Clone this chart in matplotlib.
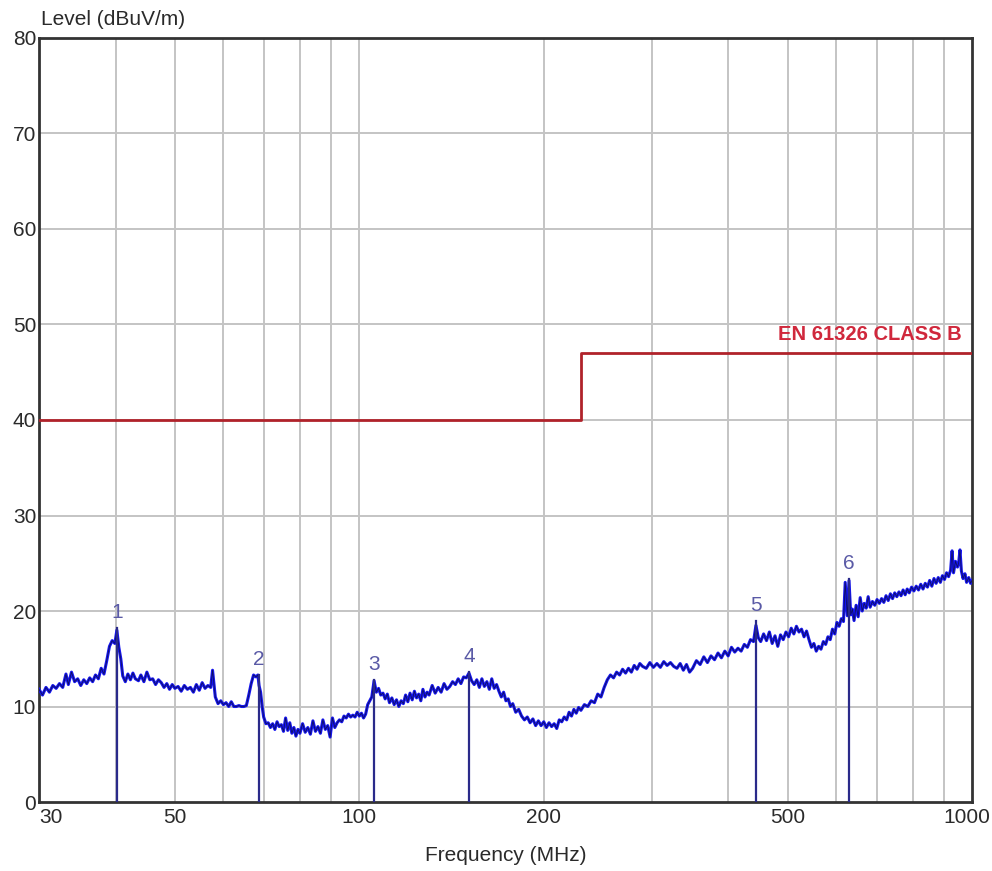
import matplotlib
matplotlib.use('Agg')
import matplotlib.pyplot as plt
import matplotlib.transforms as mtransforms
from matplotlib.ticker import FixedLocator, NullFormatter

plt.rcParams['font.family'] = ['Liberation Sans Narrow', 'Liberation Sans', 'DejaVu Sans']

# measured trace (MHz, dBuV/m)
freq = [30.0, 30.4, 30.8, 31.2, 31.6, 32.0, 32.4, 32.8, 33.2, 33.5, 33.9, 34.3, 34.7, 35.1, 35.5,
        35.9, 36.3, 36.7, 37.1, 37.5, 37.9, 38.3, 38.7, 39.1, 39.5, 39.9, 40.2, 40.5, 40.8, 41.1,
        41.5, 41.9, 42.3, 42.7, 43.1, 43.6, 44.0, 44.5, 45.0, 45.5, 46.0, 46.5, 47.0, 47.5, 48.0,
        48.5, 49.0, 49.5, 50.0, 50.6, 51.2, 51.8, 52.4, 53.0, 53.6, 54.2, 54.8, 55.4, 56.0, 56.6,
        57.2, 57.6, 58.2, 58.8, 59.4, 60.0, 60.6, 61.2, 61.8, 62.4, 63.0, 63.6, 64.2, 64.8, 65.4,
        66.0, 66.6, 67.2, 67.8, 68.3, 68.6, 69.0, 69.4, 69.8, 70.4, 71.0, 71.6, 72.2, 72.8, 73.4,
        74.0, 74.6, 75.2, 75.8, 76.4, 77.0, 77.6, 78.2, 78.8, 79.4, 80.0, 80.8, 81.6, 82.4, 83.2,
        84.0, 84.8, 85.6, 86.4, 87.2, 88.0, 88.8, 89.6, 90.4, 91.2, 92.0, 92.8, 93.6, 94.4, 95.2,
        96.0, 96.8, 97.6, 98.4, 99.2, 100.0, 100.8, 101.6, 102.4, 103.2, 104.0, 104.8, 105.7, 106.6,
        107.5, 108.4, 109.3, 110.2, 111.1, 112.0, 113.0, 114.0, 115.0, 116.0, 117.0, 118.0, 119.0,
        120.0, 121.0, 122.0, 123.0, 124.0, 125.0, 126.0, 127.0, 128.0, 129.0, 130.0, 131.5, 133.0,
        134.5, 136.0, 137.5, 139.0, 140.5, 142.0, 143.5, 145.0, 146.5, 148.0, 149.5, 151.0, 152.5,
        154.0, 155.5, 157.0, 158.5, 160.0, 161.5, 163.0, 164.5, 166.0, 167.5, 169.0, 170.5, 172.0,
        173.5, 175.0, 176.5, 178.0, 180.0, 182.0, 184.0, 186.0, 188.0, 190.0, 192.0, 194.0, 196.0,
        198.0, 200.0, 202.0, 204.0, 206.0, 208.0, 210.0, 212.0, 214.0, 216.0, 218.0, 220.0, 222.0,
        224.0, 226.0, 228.0, 230.0, 233.0, 236.0, 239.0, 242.0, 245.0, 248.0, 251.0, 254.0, 257.0,
        260.0, 263.0, 266.0, 269.0, 272.0, 275.0, 278.0, 281.0, 284.0, 287.0, 290.0, 294.0, 298.0,
        302.0, 306.0, 310.0, 314.0, 318.0, 322.0, 326.0, 330.0, 334.0, 338.0, 342.0, 346.0, 350.0,
        355.0, 360.0, 365.0, 370.0, 375.0, 380.0, 385.0, 390.0, 395.0, 400.0, 405.0, 410.0, 415.0,
        420.0, 425.0, 430.0, 435.0, 440.0, 444.0, 448.0, 452.0, 457.0, 462.0, 467.0, 472.0, 477.0,
        482.0, 487.0, 492.0, 497.0, 502.0, 507.0, 512.0, 517.0, 522.0, 527.0, 532.0, 537.0, 542.0,
        547.0, 552.0, 557.0, 562.0, 567.0, 572.0, 577.0, 582.0, 587.0, 592.0, 597.0, 602.0, 607.0,
        612.0, 617.0, 621.0, 626.0, 630.0, 634.0, 638.0, 642.0, 647.0, 652.0, 657.0, 662.0, 667.0,
        672.0, 677.0, 682.0, 688.0, 694.0, 700.0, 706.0, 712.0, 718.0, 724.0, 730.0, 736.0, 742.0,
        748.0, 754.0, 760.0, 766.0, 772.0, 778.0, 784.0, 790.0, 797.0, 804.0, 811.0, 818.0, 825.0,
        832.0, 839.0, 846.0, 853.0, 860.0, 867.0, 874.0, 881.0, 888.0, 895.0, 902.0, 909.0, 916.0,
        923.0, 928.0, 933.0, 940.0, 947.0, 951.0, 956.0, 961.0, 967.0, 974.0, 980.0, 988.0, 995.0,
        1000.0]
level = [11.8, 11.2, 12.0, 11.5, 12.2, 11.9, 12.4, 12.0, 13.4, 12.3, 13.6, 12.6, 12.9, 12.2, 12.8,
         12.4, 13.0, 12.6, 13.3, 12.9, 14.0, 13.4, 14.8, 16.3, 16.9, 16.6, 18.0, 16.2, 15.0, 13.2,
         12.6, 13.4, 12.8, 13.5, 12.9, 12.7, 13.3, 12.6, 13.6, 12.8, 12.9, 12.3, 12.8, 12.5, 12.0,
         12.4, 11.8, 12.3, 11.9, 12.1, 11.6, 12.2, 11.8, 12.0, 11.5, 12.3, 11.7, 12.5, 11.9, 12.2,
         12.0, 13.8, 11.0, 10.3, 10.6, 10.2, 10.4, 10.0, 10.5, 10.0, 10.0, 10.1, 10.0, 10.0, 10.1,
         11.2, 12.4, 13.3, 13.1, 13.3, 12.2, 11.5, 10.0, 8.9, 8.2, 8.3, 7.8, 8.2, 7.6, 8.4,
         7.9, 8.1, 7.4, 8.8, 7.5, 8.3, 7.2, 7.8, 6.9, 7.6, 7.2, 8.2, 7.3, 7.8, 7.1,
         8.5, 7.4, 7.9, 7.2, 8.6, 7.6, 8.0, 6.8, 8.8, 7.8, 8.3, 8.6, 8.4, 9.0, 8.8,
         9.2, 8.9, 9.1, 8.9, 9.4, 9.0, 9.3, 8.8, 9.2, 10.2, 10.6, 11.0, 12.7, 11.5,
         11.9, 11.2, 11.4, 10.8, 11.3, 10.4, 10.9, 10.2, 10.7, 10.0, 10.6, 10.3, 11.2,
         10.5, 11.4, 10.7, 11.6, 10.9, 11.3, 10.6, 11.8, 11.0, 11.5, 11.2, 12.2, 11.4,
         12.0, 11.5, 12.4, 11.8, 12.1, 12.6, 12.3, 12.9, 12.4, 13.1, 13.0, 13.5, 12.7,
         12.3, 12.8, 12.0, 12.9, 12.1, 12.6, 11.8, 12.9, 11.9, 12.3, 11.6, 11.0, 11.5,
         10.6, 10.8, 10.0, 10.3, 9.4, 9.7, 9.0, 8.6, 8.9, 8.3, 8.7, 8.0, 8.5,
         8.0, 8.4, 7.8, 8.3, 7.9, 8.2, 7.7, 8.6, 8.4, 8.9, 8.6, 9.4, 9.0,
         9.7, 9.3, 9.9, 9.6, 10.2, 10.0, 10.6, 10.4, 11.3, 11.0, 12.0, 12.8, 13.3,
         13.0, 13.6, 13.3, 13.9, 13.5, 14.0, 13.6, 14.3, 13.9, 14.5, 14.2, 14.0, 14.6,
         14.1, 14.5, 14.1, 14.7, 14.3, 14.6, 14.2, 14.0, 14.5, 13.8, 14.4, 13.6, 14.0,
         14.8, 14.4, 15.2, 14.6, 15.3, 14.9, 15.6, 15.1, 15.8, 15.3, 16.2, 15.7, 16.1,
         15.8, 16.5, 16.2, 17.0, 16.8, 18.5, 17.2, 16.8, 17.6, 16.9, 17.8, 16.6, 17.4,
         16.3, 17.5, 17.0, 17.8, 17.3, 18.2, 17.6, 18.4, 17.8, 18.1, 17.3, 17.9, 17.0,
         16.2, 16.6, 15.8, 16.3, 16.0, 16.8, 16.5, 17.3, 17.0, 18.1, 17.6, 18.8, 18.4,
         19.2, 18.9, 23.0, 19.5, 23.2, 19.6, 20.2, 19.0, 20.6, 19.4, 21.4, 20.0, 20.8,
         20.3, 21.5, 20.4, 21.0, 20.6, 21.2, 20.8, 21.3, 20.9, 21.6, 21.1, 21.8, 21.3,
         21.9, 21.5, 22.0, 21.6, 22.2, 21.7, 22.3, 21.9, 22.5, 22.1, 22.6, 22.2, 22.8,
         22.3, 22.9, 22.5, 23.2, 22.6, 23.4, 22.9, 23.5, 23.0, 23.7, 23.3, 24.0, 23.6,
         24.3, 26.3, 24.0, 25.2, 24.6, 25.0, 26.4, 24.2, 23.4, 23.9, 23.0, 23.5, 22.9,
         23.2]

# EN 61326 class B limit
limit_freq = [30, 230, 230, 1000]
limit_level = [40, 40, 47, 47]

# peak markers
mark_freq = [40.2, 68.6, 105.7, 151.0, 444.0, 630.0]
mark_level = [18.2, 13.3, 12.8, 13.6, 19.0, 23.4]
mark_names = ['1', '2', '3', '4', '5', '6']

xtick_vals = [30, 50, 100, 200, 500, 1000]
grid_x = [40, 50, 60, 70, 80, 90, 100, 200, 300, 400, 500, 600, 700, 800, 900]
ytick_vals = [0, 10, 20, 30, 40, 50, 60, 70, 80]

fig = plt.figure(figsize=(9.92, 8.71), dpi=100)
ax = fig.add_axes([0.0393, 0.0792, 0.9405, 0.8772])
ax.set_xscale('log')
ax.set_xlim(30, 1000)
ax.set_ylim(0, 80)

for g in grid_x:
    ax.axvline(g, color='#c4c4c4', lw=1.4, zorder=1)
for g in ytick_vals[1:-1]:
    ax.axhline(g, color='#c4c4c4', lw=1.4, zorder=1)

ax.plot(limit_freq, limit_level, color='#b0222a', lw=2.0, zorder=3)
ax.text(963, 48.0, 'EN 61326 CLASS B', color='#d0283c', fontsize=14.5, fontweight='bold',
        ha='right', va='bottom', zorder=4)

ax.plot(freq, level, color='#1515f0', lw=2.2, zorder=4)
ax.plot(freq, level, color='#101060', lw=0.6, zorder=5)

for f, l, n in zip(mark_freq, mark_level, mark_names):
    ax.plot([f, f], [0, l], color='#2a2a8a', lw=1.6, zorder=6)
    ax.text(f, l + 0.6, n, color='#5a5aa6', fontsize=15, ha='center', va='bottom', zorder=6)

ax.xaxis.set_major_locator(FixedLocator(xtick_vals))
ax.xaxis.set_minor_formatter(NullFormatter())
ax.xaxis.set_minor_locator(FixedLocator([]))
ax.set_xticklabels([str(v) for v in xtick_vals])
ax.set_yticks(ytick_vals)
ax.set_yticklabels([str(v) for v in ytick_vals])
ax.tick_params(axis='both', length=0, labelsize=15, labelcolor='#2a2a2a')
ax.tick_params(axis='x', pad=4)
ax.tick_params(axis='y', pad=2)
lbls = ax.get_xticklabels()
lbls[0].set_horizontalalignment('left')
lbls[-1].set_horizontalalignment('right')
lbls[-1].set_transform(lbls[-1].get_transform() +
                       mtransforms.ScaledTranslation(0.18, 0, fig.dpi_scale_trans))

for s in ax.spines.values():
    s.set_color('#333333')
    s.set_linewidth(2)

fig.text(0.041, 0.978, 'Level (dBuV/m)', fontsize=15, color='#2a2a2a', ha='left', va='center')
fig.text(0.51, 0.018, 'Frequency (MHz)', fontsize=15, color='#2a2a2a', ha='center', va='center')

fig.savefig('out.png', dpi=100)
